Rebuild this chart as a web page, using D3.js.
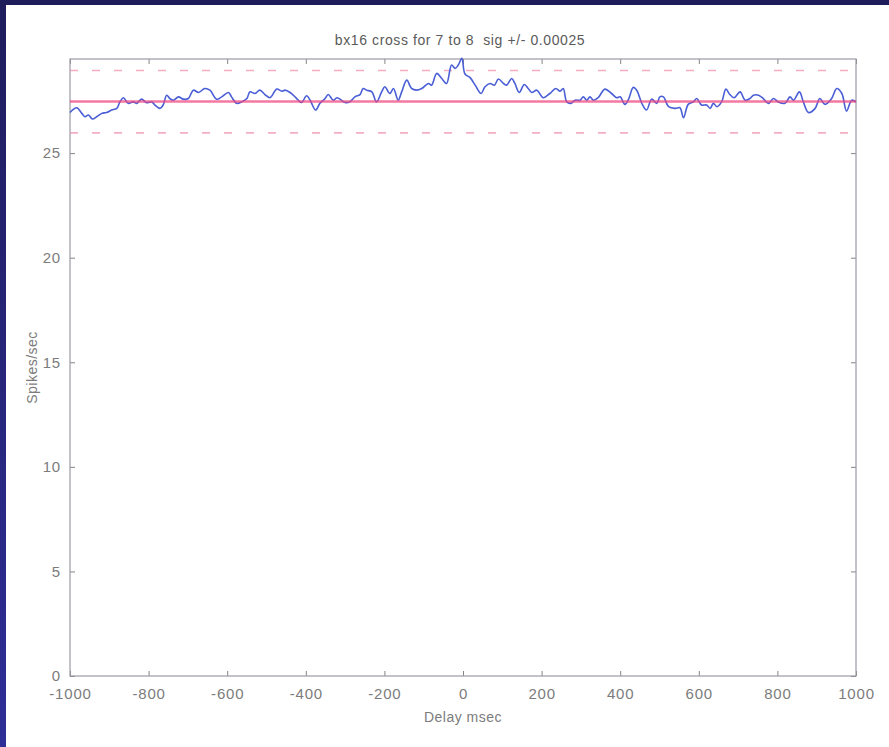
<!DOCTYPE html>
<html>
<head>
<meta charset="utf-8">
<script src="https://cdn.jsdelivr.net/npm/d3@7"></script>
<style>
  html, body { margin: 0; padding: 0; background: #ffffff; }
  svg { display: block; }
  text { font-family: "Liberation Sans", Arial, Helvetica, sans-serif; white-space: pre; }
</style>
</head>
<body>
<svg id="chart" width="889" height="747"></svg>
<script>
// ---- data ----
const title = "bx16 cross for 7 to 8  sig +/- 0.00025";
const xLabel = "Delay msec";
const yLabel = "Spikes/sec";
const xTicks = [-1000, -800, -600, -400, -200, 0, 200, 400, 600, 800, 1000];
const yTicks = [0, 5, 10, 15, 20, 25];
const xDomain = [-1000, 1000];
const yDomain = [0, 29.5];
const meanRate = 27.47;
const upperSig = 28.95;
const lowerSig = 25.97;

const delayMs = [
  -1000,-983,-970,-962,-953,-943,-932,-919,-907,-894,-881,-873,-864,-852,-839,-830,-818,-805,-792,-784,
  -771,-763,-754,-746,-737,-724,-712,-699,-686,-673,-657,-644,-627,-614,-597,-589,-576,-563,-550,-542,
  -529,-517,-504,-491,-474,-461,-453,-440,-423,-411,-398,-389,-375,-364,-351,-343,-330,-321,-313,-300,
  -288,-275,-262,-254,-245,-232,-220,-207,-199,-186,-177,-165,-156,-143,-131,-118,-105,-88,-80,-67,
  -54,-42,-29,-20,-12,-3,5,18,31,46,56,69,80,90,103,111,124,132,143,156,
  166,175,188,204,221,236,247,255,264,275,285,298,306,315,323,332,344,361,378,391,
  400,412,422,433,442,455,467,480,493,501,510,523,540,552,561,573,586,595,607,620,
  629,637,646,658,669,679,690,705,718,730,739,752,764,777,790,802,819,832,841,856,
  866,879,896,908,921,938,951,964,976,989,1000
];
const rate = [
  26.94,27.17,26.90,26.74,26.82,26.63,26.74,26.90,26.94,27.06,27.14,27.45,27.65,27.38,27.45,27.38,27.58,27.41,27.45,27.30,
  27.14,27.30,27.77,27.61,27.53,27.69,27.58,27.61,28.01,27.90,28.09,28.01,27.58,27.69,27.90,27.69,27.38,27.45,27.61,27.93,
  27.85,28.01,27.80,27.65,28.06,27.96,28.01,27.90,27.61,27.42,27.74,27.53,27.06,27.38,27.61,27.80,27.53,27.65,27.58,27.42,
  27.45,27.69,27.80,28.09,28.01,27.93,27.45,27.93,28.17,27.85,28.09,27.53,27.93,28.49,28.09,28.01,28.09,28.33,28.25,28.81,
  28.57,28.33,29.21,29.05,29.21,29.53,28.78,28.61,28.25,27.85,28.17,28.33,28.25,28.54,28.33,28.25,28.57,28.33,27.90,28.28,
  28.09,27.90,28.01,27.65,27.85,28.09,27.96,28.09,27.45,27.38,27.53,27.53,27.69,27.53,27.69,27.53,27.65,28.06,27.85,27.65,
  27.69,27.33,27.61,28.14,28.01,27.38,27.06,27.58,27.38,27.69,27.69,27.22,27.14,27.17,26.69,27.33,27.45,27.61,27.30,27.30,
  27.14,27.38,27.22,27.45,28.06,27.80,27.65,27.93,27.53,27.61,27.77,27.77,27.61,27.38,27.61,27.45,27.38,27.69,27.53,27.93,
  27.45,26.94,27.14,27.61,27.33,27.61,28.09,27.85,27.01,27.53,27.45
];

// ---- layout ----
const svg = d3.select("#chart");
const W = 889, H = 747;
const plot = { left: 70, right: 856, top: 59, bottom: 676 };

// frame (navy border top and left)
const defs = svg.append("defs");
const grad = defs.append("linearGradient").attr("id", "leftbar").attr("x1", 0).attr("y1", 0).attr("x2", 0).attr("y2", 1);
grad.append("stop").attr("offset", "0%").attr("stop-color", "#1f1c5c");
grad.append("stop").attr("offset", "100%").attr("stop-color", "#2e2e98");
svg.append("rect").attr("x", 0).attr("y", 0).attr("width", W).attr("height", H).attr("fill", "#ffffff");
svg.append("rect").attr("x", 0).attr("y", 0).attr("width", W).attr("height", 5).attr("fill", "#1f1c5c");
svg.append("rect").attr("x", 0).attr("y", 0).attr("width", 6).attr("height", H).attr("fill", "url(#leftbar)");

const x = d3.scaleLinear().domain(xDomain).range([plot.left, plot.right]);
const y = d3.scaleLinear().domain(yDomain).range([plot.bottom, plot.top]);

const tickColor = "#858585";
const labelColor = "#7c7c7c";

// axes (MATLAB style: inward ticks on all sides)
function styleAxis(g) {
  g.selectAll(".domain").remove();
  g.selectAll(".tick line").attr("stroke", tickColor).attr("stroke-width", 1);
  g.selectAll(".tick text").attr("fill", labelColor).style("font-size", "15px").style("letter-spacing", "0.8px");
}
const fmt = d => String(d);

svg.append("g").attr("transform", `translate(0,${plot.bottom})`)
  .call(d3.axisBottom(x).tickValues(xTicks).tickFormat(fmt).tickSizeInner(-5).tickSizeOuter(0).tickPadding(12))
  .call(styleAxis);
svg.append("g").attr("transform", `translate(0,${plot.top})`)
  .call(d3.axisTop(x).tickValues(xTicks).tickFormat("").tickSizeInner(-5).tickSizeOuter(0))
  .call(styleAxis);
svg.append("g").attr("transform", `translate(${plot.left},0)`)
  .call(d3.axisLeft(y).tickValues(yTicks).tickFormat(fmt).tickSizeInner(-5).tickSizeOuter(0).tickPadding(9))
  .call(styleAxis);
svg.append("g").attr("transform", `translate(${plot.right},0)`)
  .call(d3.axisRight(y).tickValues(yTicks).tickFormat("").tickSizeInner(-5).tickSizeOuter(0))
  .call(styleAxis);

// box
svg.append("rect")
  .attr("x", plot.left).attr("y", plot.top)
  .attr("width", plot.right - plot.left).attr("height", plot.bottom - plot.top)
  .attr("fill", "none").attr("stroke", "#9a9aa4").attr("stroke-width", 1.2);

// significance dashed lines
[upperSig, lowerSig].forEach(v => {
  svg.append("line")
    .attr("x1", x(xDomain[0])).attr("x2", x(xDomain[1]))
    .attr("y1", y(v)).attr("y2", y(v))
    .attr("stroke", "#f08aa6").attr("stroke-opacity", 0.7)
    .attr("stroke-width", 1.6).attr("stroke-dasharray", "8,14");
});

// data line
const pts = delayMs.map((d, i) => [d, rate[i]]);
const line = d3.line().x(d => x(d[0])).y(d => y(d[1])).curve(d3.curveCatmullRom.alpha(0.5));
svg.append("path").datum(pts)
  .attr("d", line)
  .attr("fill", "none").attr("stroke", "#4a5ed6").attr("stroke-width", 1.6);

// mean line (semi-transparent, on top)
svg.append("line")
  .attr("x1", x(xDomain[0])).attr("x2", x(xDomain[1]))
  .attr("y1", y(meanRate)).attr("y2", y(meanRate))
  .attr("stroke", "#f0457e").attr("stroke-opacity", 0.72).attr("stroke-width", 2.6);

// title and labels
svg.append("text").attr("x", (plot.left + plot.right) / 2 - 3).attr("y", 45)
  .attr("text-anchor", "middle").attr("fill", "#5a5a5a")
  .style("font-size", "14px").style("letter-spacing", "0.6px").text(title);
svg.append("text").attr("x", (plot.left + plot.right) / 2).attr("y", 722)
  .attr("text-anchor", "middle").attr("fill", labelColor)
  .style("font-size", "14px").style("letter-spacing", "0.5px").text(xLabel);
svg.append("text")
  .attr("transform", `translate(37,${(plot.top + plot.bottom) / 2}) rotate(-90)`)
  .attr("text-anchor", "middle").attr("fill", labelColor)
  .style("font-size", "14px").style("letter-spacing", "0.5px").text(yLabel);
</script>
</body>
</html>
